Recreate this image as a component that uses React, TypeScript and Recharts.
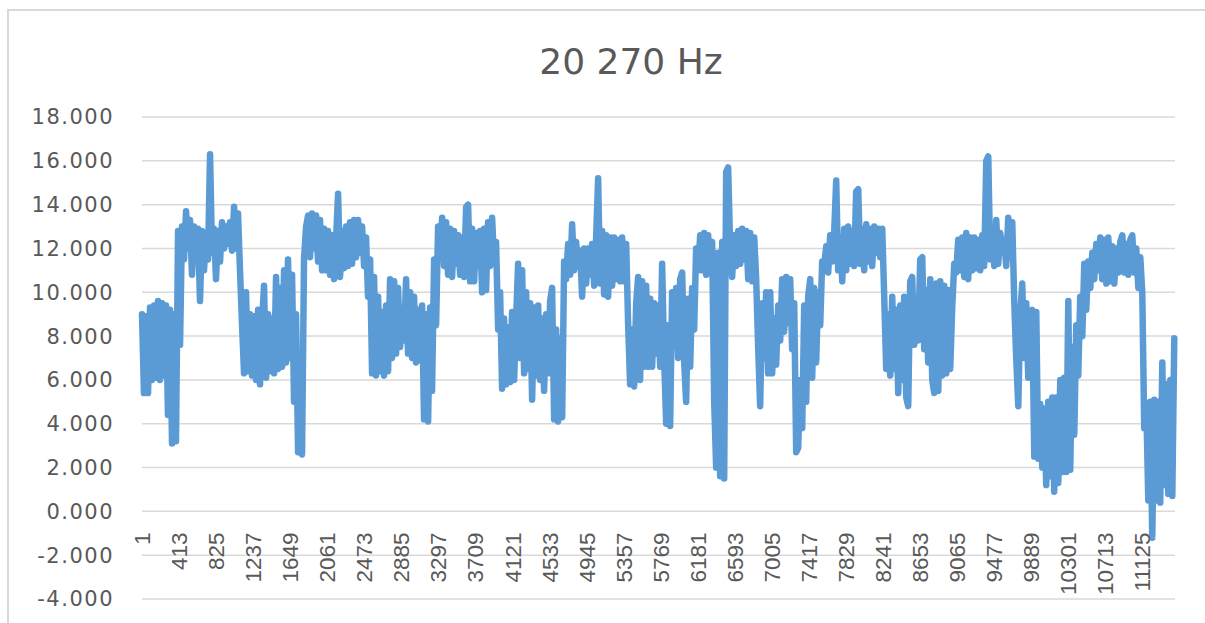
import { LineChart, Line, XAxis, YAxis, CartesianGrid } from "recharts";

const TITLE = "20 270 Hz";

const TOTAL_SAMPLES = 11490;
const SAMPLE_STEP = 22.25;

const xTicks = [
  1, 413, 825, 1237, 1649, 2061, 2473, 2885, 3297, 3709, 4121, 4533, 4945, 5357,
  5769, 6181, 6593, 7005, 7417, 7829, 8241, 8653, 9065, 9477, 9889, 10301,
  10713, 11125,
];

const yTicks = [-4, -2, 0, 2, 4, 6, 8, 10, 12, 14, 16, 18];

const amplitude = [
  9.0, 5.4, 8.9, 5.4, 9.3, 6.0, 9.4, 6.1, 9.6, 6.0,
  9.5, 6.2, 9.4, 4.4, 9.2, 3.1, 9.0, 3.2, 12.8, 7.6,
  13.0, 11.5, 13.7, 12.0, 13.3, 10.8, 13.0, 11.8, 12.9, 9.6,
  12.8, 11.0, 12.7, 11.5, 16.3, 11.8, 12.9, 10.6, 12.8, 11.4,
  13.2, 12.0, 13.0, 12.2, 13.2, 11.9, 13.9, 12.0, 13.6, 11.0,
  8.5, 6.3, 10.0, 6.4, 9.0, 6.2, 8.9, 6.0, 9.2, 5.8,
  8.6, 10.3, 6.1, 9.0, 6.4, 8.8, 6.3, 10.7, 6.5, 10.2,
  6.6, 11.0, 6.8, 11.5, 7.0, 10.8, 5.0, 9.0, 2.7, 5.0,
  2.6, 11.5, 13.0, 13.5, 11.6, 13.6, 12.0, 13.5, 11.4, 13.3,
  11.0, 12.9, 11.0, 12.8, 10.8, 12.6, 10.6, 12.4, 14.5, 10.7,
  12.8, 11.1, 13.0, 11.2, 13.2, 11.3, 13.3, 11.6, 13.3, 11.8,
  13.0, 11.2, 12.5, 9.8, 11.5, 6.3, 10.7, 6.2, 9.8, 6.4,
  9.1, 6.2, 9.4, 6.4, 10.6, 7.0, 10.5, 7.2, 10.2, 7.5,
  8.5, 7.8, 10.6, 7.2, 10.0, 7.0, 9.8, 6.8, 9.2, 6.9,
  9.4, 4.2, 9.0, 4.1, 9.3, 5.5, 11.5, 8.5, 13.0, 11.6,
  13.4, 11.2, 13.2, 10.8, 12.9, 10.7, 12.8, 11.3, 12.6, 10.8,
  12.5, 10.7, 13.9, 14.0, 10.5, 12.9, 10.5, 12.7, 11.2, 12.8,
  10.0, 12.9, 10.1, 13.2, 11.2, 13.4, 11.3, 12.3, 8.3, 10.0,
  5.6, 8.8, 5.8, 8.4, 5.9, 9.1, 6.0, 8.8, 11.3, 7.0,
  11.0, 6.3, 10.0, 6.5, 9.5, 5.1, 9.3, 6.2, 9.4, 6.0,
  8.8, 5.5, 9.0, 6.3, 9.6, 10.2, 4.2, 8.3, 4.1, 7.9,
  4.3, 11.4, 10.6, 12.2, 10.8, 13.1, 11.0, 12.3, 11.2, 11.9,
  9.8, 12.0, 10.4, 12.0, 10.8, 12.2, 10.3, 12.5, 15.2, 10.4,
  12.8, 9.9, 12.6, 9.8, 12.5, 10.3, 12.5, 10.6, 12.4, 10.5,
  12.5, 10.5, 12.2, 8.5, 5.8, 8.3, 5.7, 9.5, 10.7, 6.0,
  10.5, 6.6, 10.3, 6.6, 9.7, 6.6, 9.5, 7.2, 9.4, 6.6,
  11.3, 7.0, 4.0, 8.5, 3.9, 10.0, 7.5, 10.2, 7.0, 10.6,
  10.9, 6.8, 5.0, 9.7, 6.6, 10.2, 8.3, 12.0, 11.0, 12.6,
  11.0, 12.7, 10.8, 12.6, 11.0, 12.3, 5.0, 2.0, 11.8, 1.6,
  12.3, 1.5, 15.5, 15.7, 12.0, 10.7, 12.6, 11.2, 12.8, 11.3,
  12.9, 11.5, 12.8, 10.6, 12.7, 10.5, 12.5, 10.6, 7.5, 4.8,
  9.5, 7.0, 10.0, 6.3, 10.0, 6.3, 8.8, 6.7, 9.4, 7.8,
  10.6, 8.2, 10.7, 8.6, 10.6, 7.4, 9.5, 2.7, 2.9, 6.0,
  3.8, 9.4, 5.0, 9.8, 10.6, 6.1, 10.2, 6.8, 10.0, 8.5,
  11.4, 11.2, 12.1, 10.9, 12.6, 11.4, 12.8, 15.1, 11.0, 12.5,
  10.5, 12.9, 11.0, 13.0, 11.3, 12.8, 11.2, 14.6, 14.7, 11.3,
  12.9, 11.0, 13.1, 11.4, 12.9, 11.2, 13.0, 11.8, 12.9, 11.6,
  12.9, 9.8, 6.5, 9.0, 6.2, 9.8, 6.5, 9.2, 5.4, 9.4,
  6.0, 9.8, 5.2, 4.8, 10.5, 10.7, 7.6, 8.8, 7.8, 11.5,
  11.6, 7.4, 10.1, 6.8, 10.6, 6.0, 5.4, 10.4, 5.5, 10.5,
  6.2, 10.3, 6.3, 10.1, 6.5, 9.3, 11.3, 10.9, 12.4, 11.0,
  12.5, 10.7, 12.7, 10.6, 12.5, 11.0, 12.5, 11.1, 12.4, 11.0,
  12.6, 11.2, 16.0, 16.2, 11.5, 13.0, 11.2, 13.3, 11.3, 12.7,
  11.9, 12.4, 11.2, 13.4, 11.6, 13.2, 9.6, 7.0, 4.8, 9.0,
  10.4, 7.0, 9.5, 6.1, 8.8, 9.2, 2.5, 9.1, 2.4, 4.9,
  2.0, 4.7, 1.2, 5.0, 1.6, 5.2, 0.9, 5.2, 1.3, 6.0,
  1.8, 6.1, 1.8, 9.6, 1.9, 7.5, 3.5, 8.5, 6.2, 9.8,
  8.0, 11.3, 9.2, 11.4, 10.2, 11.8, 10.6, 12.2, 11.0, 12.5,
  10.6, 12.4, 10.4, 12.5, 10.5, 12.1, 10.4, 12.0, 10.9, 12.3,
  12.6, 10.9, 12.2, 10.8, 12.4, 12.6, 10.9, 12.0, 10.2, 11.6,
  10.0, 3.8, 4.8, 0.5, 5.0, -1.2, 5.1, 0.5, 5.0, 0.4,
  6.8, 1.2, 5.8, 0.8, 6.0, 0.7, 7.9,
];

const chartData = amplitude.map((v, i) => ({
  sample: Math.round(1 + i * SAMPLE_STEP),
  value: v,
}));

const PLOT_H = 482;
// category labels sit just under the 0 line, not at the bottom of the plot
const LABEL_LIFT = (PLOT_H * 4) / 22 - 21;

function SampleTick(props: any) {
  const { x, y, payload } = props;
  const ty = y - LABEL_LIFT;
  return (
    <text
      x={x}
      y={ty}
      dy="0.36em"
      textAnchor="end"
      transform={`rotate(-90, ${x}, ${ty})`}
      fill="#595959"
      fontSize={22.5}
      fontFamily="'Liberation Sans', Arial, sans-serif"
    >
      {payload.value}
    </text>
  );
}

export default function App() {
  return (
    <div
      style={{
        position: "fixed",
        left: 0,
        top: 0,
        width: 1205,
        height: 623,
        background: "#fff",
        overflow: "hidden",
      }}
    >
      <div
        style={{
          position: "absolute",
          left: 7,
          top: 9,
          width: 1400,
          height: 800,
          borderTop: "2px solid #d9d9d9",
          borderLeft: "2px solid #d9d9d9",
        }}
      />
      <div
        style={{
          position: "absolute",
          left: 0,
          top: 44,
          width: 1262,
          textAlign: "center",
          fontFamily: "'DejaVu Sans', sans-serif",
          fontSize: 36,
          lineHeight: "36px",
          color: "#595959",
        }}
      >
        {TITLE}
      </div>
      <LineChart
        width={1205}
        height={623}
        data={chartData}
        margin={{ top: 117, right: 30, bottom: 0, left: 0 }}
        style={{ position: "absolute", left: 0, top: 0 }}
      >
        <CartesianGrid vertical={false} stroke="#d9d9d9" strokeWidth={1.5} />
        <XAxis
          type="number"
          dataKey="sample"
          domain={[1, TOTAL_SAMPLES]}
          ticks={xTicks}
          interval={0}
          height={24}
          axisLine={false}
          tickLine={false}
          tickSize={0}
          tickMargin={0}
          tick={<SampleTick />}
        />
        <YAxis
          type="number"
          domain={[-4, 18]}
          ticks={yTicks}
          interval={0}
          width={142}
          axisLine={false}
          tickLine={false}
          tickSize={0}
          tickMargin={28}
          tickFormatter={(v: number) => v.toFixed(3)}
          tick={{
            fill: "#595959",
            fontSize: 21,
            fontFamily: "'DejaVu Sans', sans-serif",
            letterSpacing: 1.5,
          }}
        />
        <Line
          type="linear"
          dataKey="value"
          stroke="#5b9bd5"
          strokeWidth={6.5}
          strokeLinejoin="round"
          strokeLinecap="round"
          dot={false}
          isAnimationActive={false}
        />
      </LineChart>
    </div>
  );
}
